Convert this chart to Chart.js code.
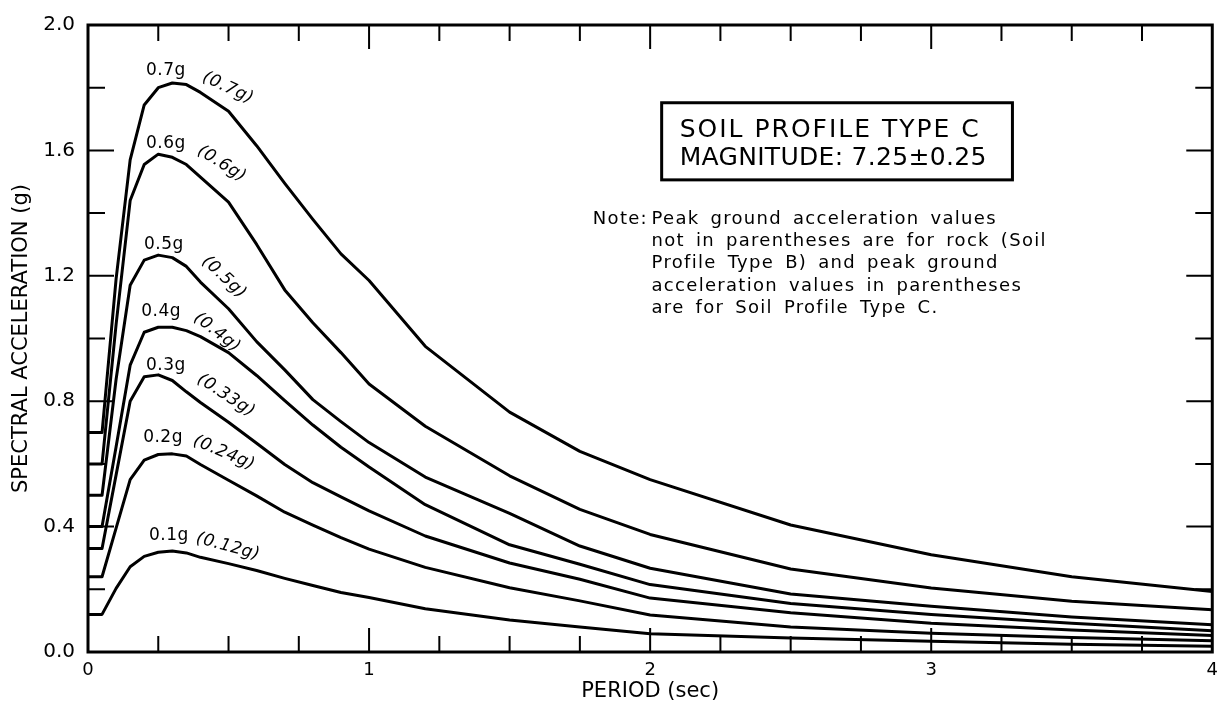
<!DOCTYPE html>
<html>
<head>
<meta charset="utf-8">
<title>Spectral acceleration – Soil Profile Type C</title>
<script src="https://cdn.jsdelivr.net/npm/chart.js@4.4.1/dist/chart.umd.min.js"></script>
<style>
  html, body { margin: 0; padding: 0; background: #fff; }
  #wrap { width: 1226px; height: 712px; position: relative; }
</style>
</head>
<body>
<div id="wrap"><canvas id="spectra"></canvas></div>
<script>
// Periods (sec) at which every spectrum is tabulated
const periods = [0, 0.05, 0.1, 0.15, 0.2, 0.25, 0.3, 0.35, 0.4, 0.5, 0.6, 0.7, 0.8, 0.9, 1.0, 1.2, 1.5, 1.75, 2.0, 2.5, 3.0, 3.5, 4.0];

// Spectral acceleration (g) for Soil Profile Type C; first value is the soil PGA
const saSoil070 = [0.70, 0.70, 1.19, 1.57, 1.745, 1.80, 1.815, 1.81, 1.785, 1.725, 1.615, 1.495, 1.38, 1.27, 1.185, 0.975, 0.765, 0.64, 0.55, 0.405, 0.31, 0.24, 0.193];
const saSoil060 = [0.60, 0.60, 1.045, 1.44, 1.555, 1.588, 1.578, 1.555, 1.515, 1.435, 1.30, 1.155, 1.05, 0.955, 0.855, 0.72, 0.562, 0.455, 0.375, 0.265, 0.204, 0.162, 0.135];
const saSoil050 = [0.50, 0.50, 0.87, 1.17, 1.25, 1.266, 1.258, 1.23, 1.18, 1.095, 0.99, 0.90, 0.805, 0.735, 0.668, 0.558, 0.442, 0.338, 0.267, 0.185, 0.146, 0.112, 0.087];
const saSoil040 = [0.40, 0.40, 0.655, 0.915, 1.02, 1.036, 1.036, 1.025, 1.006, 0.955, 0.882, 0.802, 0.724, 0.653, 0.59, 0.47, 0.342, 0.28, 0.215, 0.155, 0.12, 0.092, 0.068];
const saSoil033 = [0.33, 0.33, 0.565, 0.80, 0.878, 0.884, 0.866, 0.83, 0.796, 0.733, 0.666, 0.598, 0.54, 0.495, 0.45, 0.37, 0.284, 0.232, 0.172, 0.125, 0.092, 0.07, 0.053];
const saSoil024 = [0.24, 0.24, 0.395, 0.55, 0.612, 0.63, 0.632, 0.625, 0.598, 0.548, 0.498, 0.446, 0.405, 0.365, 0.328, 0.27, 0.205, 0.163, 0.118, 0.08, 0.06, 0.046, 0.036];
const saSoil012 = [0.12, 0.12, 0.203, 0.272, 0.305, 0.318, 0.322, 0.316, 0.302, 0.282, 0.26, 0.235, 0.212, 0.19, 0.174, 0.138, 0.102, 0.08, 0.058, 0.045, 0.034, 0.025, 0.018];

// Rock (Soil Profile Type B) peak ground accelerations, same order as the curves
const rockPGA = [0.7, 0.6, 0.5, 0.4, 0.3, 0.2, 0.1];

// Axis ticks
const xTickValues = [0, 1, 2, 3, 4];
const xTickLabels = ['0', '1', '2', '3', '4'];
const yTickValues = [0, 0.4, 0.8, 1.2, 1.6, 2.0];
const yTickLabels = ['0.0', '0.4', '0.8', '1.2', '1.6', '2.0'];

const soilCurves = [saSoil070, saSoil060, saSoil050, saSoil040, saSoil033, saSoil024, saSoil012];

// Where each curve's two labels sit (data coordinates) and the tilt of the soil label
const labelPlacement = [
  { rock: [0.277, 1.855], soil: [0.498, 1.799], angle: 25 },
  { rock: [0.277, 1.623], soil: [0.476, 1.557], angle: 32 },
  { rock: [0.270, 1.299], soil: [0.484, 1.195], angle: 43 },
  { rock: [0.260, 1.085], soil: [0.459, 1.019], angle: 38 },
  { rock: [0.277, 0.915], soil: [0.491, 0.818], angle: 33 },
  { rock: [0.267, 0.685], soil: [0.484, 0.635], angle: 23 },
  { rock: [0.288, 0.371], soil: [0.498, 0.336], angle: 15 }
];

const boxLines = ['SOIL PROFILE TYPE C', 'MAGNITUDE: 7.25\u00B10.25'];
const noteLines = [
  'Peak ground acceleration values',
  'not in parentheses are for rock (Soil',
  'Profile Type B) and peak ground',
  'acceleration values in parentheses',
  'are for Soil Profile Type C.'
];

const FONT = "'DejaVu Sans', 'Liberation Sans', sans-serif";

function fmtG(v) { return String(v) + 'g'; }

// Frame, inward ticks, curve labels and the text block
const decorations = {
  id: 'decorations',
  afterDatasetsDraw(chart) {
    const { ctx, chartArea: a, scales } = chart;
    const xs = scales.x, ys = scales.y;
    const X = v => xs.getPixelForValue(v);
    const Y = v => ys.getPixelForValue(v);

    ctx.save();
    ctx.strokeStyle = '#000';
    ctx.fillStyle = '#000';

    // inward tick marks on all four sides
    ctx.lineWidth = 2;
    ctx.lineCap = 'butt';
    ctx.beginPath();
    for (let k = 1; k < 16; k++) {
      const v = k * 0.25;
      const len = (k % 4 === 0) ? 24 : 16;
      const px = X(v);
      ctx.moveTo(px, a.bottom); ctx.lineTo(px, a.bottom - len);
      ctx.moveTo(px, a.top); ctx.lineTo(px, a.top + len);
    }
    for (let k = 1; k < 10; k++) {
      const v = k * 0.2;
      const len = (k % 2 === 0) ? 26 : 17;
      const py = Y(v);
      ctx.moveTo(a.left, py); ctx.lineTo(a.left + len, py);
      ctx.moveTo(a.right, py); ctx.lineTo(a.right - len, py);
    }
    ctx.stroke();

    // plot frame
    ctx.lineWidth = 3;
    ctx.strokeRect(a.left, a.top, a.right - a.left, a.bottom - a.top);

    // curve labels: rock PGA upright, soil PGA tilted along the curve
    ctx.textAlign = 'center';
    ctx.textBaseline = 'middle';
    labelPlacement.forEach((p, i) => {
      ctx.font = `17px ${FONT}`;
      ctx.letterSpacing = '0.5px';
      ctx.fillText(fmtG(rockPGA[i]), X(p.rock[0]), Y(p.rock[1]));
      ctx.save();
      ctx.translate(X(p.soil[0]), Y(p.soil[1]));
      ctx.rotate(p.angle * Math.PI / 180);
      ctx.font = `italic 17px ${FONT}`;
      ctx.fillText('(' + fmtG(soilCurves[i][0]) + ')', 0, 0);
      ctx.restore();
    });

    // title box
    const bx0 = X(2.041), bx1 = X(3.289), by0 = Y(1.752), by1 = Y(1.506);
    ctx.lineWidth = 3;
    ctx.strokeRect(bx0, by0, bx1 - bx0, by1 - by0);
    ctx.textAlign = 'left';
    ctx.textBaseline = 'alphabetic';
    ctx.font = `25px ${FONT}`;
    ctx.letterSpacing = '2px';
    ctx.fillText(boxLines[0], X(2.105), Y(1.6415));
    ctx.letterSpacing = '0.3px';
    ctx.fillText(boxLines[1], X(2.105), Y(1.5535));

    // note
    ctx.font = `18px ${FONT}`;
    ctx.letterSpacing = '1.3px';
    ctx.wordSpacing = '4px';
    const noteTop = Y(1.365);
    ctx.fillText('Note:', X(1.796), noteTop);
    noteLines.forEach((t, i) => ctx.fillText(t, X(2.005), noteTop + i * 22.2));
    ctx.letterSpacing = '0px';
    ctx.wordSpacing = '0px';
    ctx.restore();
  }
};

new Chart(document.getElementById('spectra'), {
  type: 'line',
  data: {
    datasets: soilCurves.map(values => ({
      data: periods.map((t, i) => ({ x: t, y: values[i] })),
      borderColor: '#000',
      borderWidth: 3,
      pointRadius: 0,
      tension: 0,
      fill: false,
      borderJoinStyle: 'round',
      borderCapStyle: 'round'
    }))
  },
  options: {
    responsive: true,
    maintainAspectRatio: false,
    animation: false,
    devicePixelRatio: 1,
    layout: { padding: { left: 0, right: 13, top: 16, bottom: 0 } },
    plugins: { legend: { display: false }, tooltip: { enabled: false } },
    scales: {
      x: {
        type: 'linear',
        min: 0, max: 4,
        afterBuildTicks: s => { s.ticks = xTickValues.map(v => ({ value: v })); },
        afterFit: s => { s.height = 60; },
        ticks: {
          callback: (v, i) => xTickLabels[i],
          font: { family: FONT, size: 18 },
          color: '#000',
          padding: 8,
          maxRotation: 0,
          autoSkip: false
        },
        grid: { display: false, drawTicks: false },
        border: { display: false },
        title: {
          display: true,
          text: 'PERIOD (sec)',
          font: { family: FONT, size: 21 },
          color: '#000',
          padding: { top: 0, bottom: 8 }
        }
      },
      y: {
        type: 'linear',
        min: 0, max: 2,
        afterBuildTicks: s => { s.ticks = yTickValues.map(v => ({ value: v })); },
        afterFit: s => { s.width = 88; },
        ticks: {
          callback: (v, i) => yTickLabels[i],
          font: { family: FONT, size: 20 },
          color: '#000',
          padding: 13,
          autoSkip: false
        },
        grid: { display: false, drawTicks: false },
        border: { display: false },
        title: {
          display: true,
          text: 'SPECTRAL ACCELERATION (g)',
          font: { family: FONT, size: 21 },
          color: '#000',
          padding: { top: 9, bottom: 0 }
        }
      }
    }
  },
  plugins: [decorations]
});
</script>
</body>
</html>
